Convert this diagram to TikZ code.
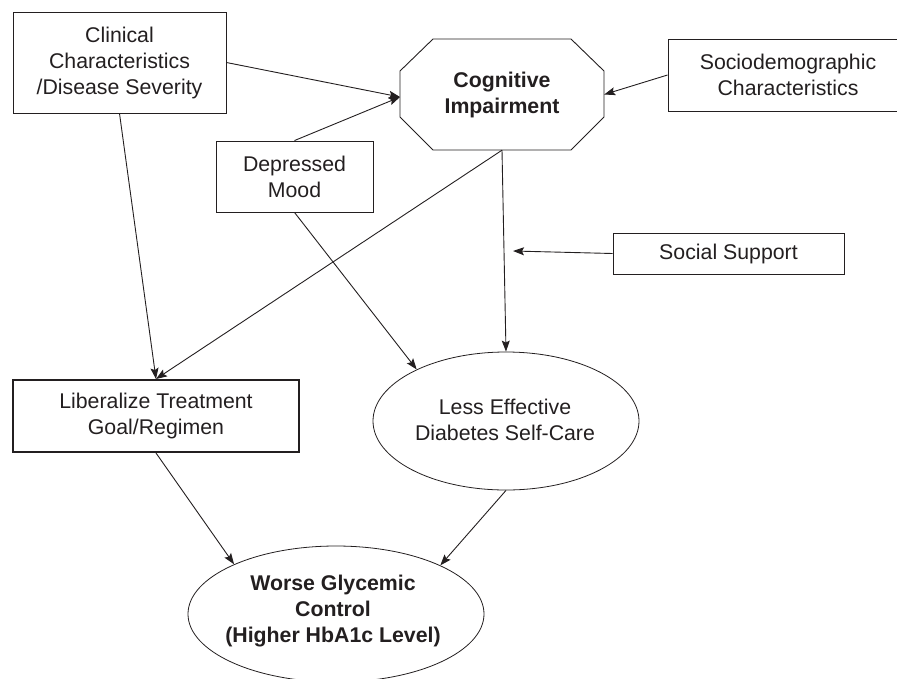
\documentclass[tikz,border=0pt]{standalone}
\usepackage{fontspec}
\setmainfont{Liberation Sans}
\usetikzlibrary{arrows.meta,shapes.geometric}
\definecolor{ink}{HTML}{231F20}
\begin{document}
\begin{tikzpicture}[x=1pt,y=-1pt,
  every node/.style={text=ink},
  txt/.style={font=\fontsize{21.3}{26}\selectfont},
  btxt/.style={font=\fontsize{21.3}{26}\selectfont\bfseries},
  box/.style={txt, draw=ink, line width=0.9pt, rectangle, inner sep=0pt, align=center},
  ell/.style={draw=ink, line width=0.8pt, ellipse, inner sep=0pt},
  lbl/.style={align=center, inner sep=0pt},
  conn/.style={draw=ink, line width=0.9pt, -{Stealth[length=11pt,width=8pt,inset=2pt]}}]
\useasboundingbox (0,0) rectangle (897,678);
\clip (0,0) rectangle (897,678);

% nodes
\node[box, minimum width=213pt, minimum height=101pt] (clin) at (119.5,62.5) {Clinical\\Characteristics\\/Disease Severity};
\node[btxt, lbl, minimum width=204pt, minimum height=111pt] (cog) at (502,94.5) {Cognitive\\Impairment};
\draw[draw=ink, line width=0.9pt] (433,39) -- (571,39) -- (604,71) -- (604,117) -- (571,150) -- (433,150) -- (400,117) -- (400,71) -- cycle;
\node[box, minimum width=240pt, minimum height=72pt] (socio) at (788,75) {Sociodemographic\\Characteristics};
\node[box, minimum width=157pt, minimum height=71pt] (dep) at (294.5,176.5) {Depressed\\Mood};
\node[box, minimum width=231pt, minimum height=41pt] (soc) at (728.5,253.5) {Social Support};
\node[box, line width=2pt, minimum width=286pt, minimum height=72pt] (lib) at (156,416) {Liberalize Treatment\\Goal/Regimen};
\node[ell, minimum width=266pt, minimum height=138pt] (less) at (506,421) {};
\node[txt, lbl] (lessT) at (505,420) {Less Effective\\Diabetes Self-Care};
\node[ell, minimum width=296pt, minimum height=136pt] (worse) at (336,614) {};
\node[btxt, lbl] (worseT) at (333,611) {Worse Glycemic\\Control\\(Higher HbA1c Level)};

\coordinate (cogL) at (400,97);
\coordinate (ssEnd) at (513,251);

% connectors
\draw[conn] (clin.east) -- (cogL);
\draw[conn] (dep.north) -- (cogL);
\draw[conn] (socio.west) -- (cog.east);
\draw[conn] (soc.west) -- (ssEnd);
\draw[conn] (cog.south) -- (less.north);
\draw[conn] (cog.south) -- (lib.north);
\draw[conn] (clin.south) -- (lib.north);
\draw[conn] (dep.south) -- (less.150);
\draw[conn] (lib.south) -- (worse.154);
\draw[conn] (less.south) -- (worse.25);
\end{tikzpicture}
\end{document}
